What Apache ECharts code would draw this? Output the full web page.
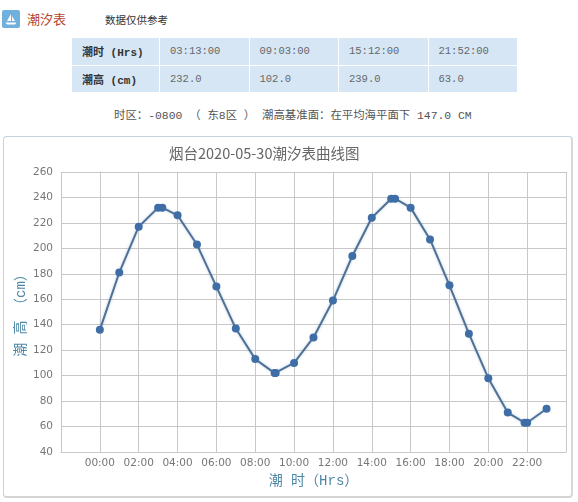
<!DOCTYPE html>
<html><head><meta charset="utf-8">
<script src="https://cdn.jsdelivr.net/npm/echarts@6/dist/echarts.min.js"></script>
<style>
html,body{margin:0;padding:0;background:#fff;width:578px;height:502px;overflow:hidden;font-family:"Noto Sans CJK SC",sans-serif}
.a{position:absolute;white-space:nowrap}
table{position:absolute;left:71px;top:37px;width:447px;height:56px;border-collapse:separate;border-spacing:1px;table-layout:fixed;font-family:"Liberation Mono","Noto Sans CJK SC",monospace;font-size:10.500px;color:#666}
td{background:#d6e6f5;padding:0 0 0 10px;height:26px}
td.h{font-weight:bold;color:#333;width:77px;font-size:11px}
#card{position:absolute;left:3px;top:136px;width:567px;height:359px;border:1px solid #c6d3dc;border-bottom-color:#d4d4d4;border-right-color:#d8d8d8;border-bottom-width:2px;border-right-width:2px;border-radius:4px}
#chart{position:absolute;left:0;top:0;width:578px;height:502px}
</style></head><body>
<svg class="a" style="left:2px;top:10px" width="18" height="18"><rect width="18" height="18" rx="2" fill="#6fb0dc"/><path d="M9 4v7H5z M10 6l3 5h-3z M3.500 12.500h11l-1.500 2h-8z" fill="#fff"/></svg>
<div class="a" style="left:27px;top:10px;font-size:13px;line-height:18px;color:#b8432f">潮汐表</div>
<div class="a" style="left:105px;top:12px;font-size:10.500px;line-height:16px;color:#333">数据仅供参考</div>
<table id="tbl"></table>
<div class="a" id="note" style="left:114px;top:107px;font-size:11.400px;line-height:18px;color:#555;font-family:'Liberation Mono','Noto Sans CJK SC',monospace"></div>
<div id="card"></div>
<div id="chart"></div>
<script>
const tideTimes=["03:13:00","09:03:00","15:12:00","21:52:00"];
const tideHeights=["232.0","102.0","239.0","63.0"];
const noteText="时区：-0800 （ 东8区 ） 潮高基准面：在平均海平面下 147.0 CM";
const titleText="烟台2020-05-30潮汐表曲线图";
const times=["00:00","01:00","02:00","03:00","03:13","04:00","05:00","06:00","07:00","08:00","09:00","09:03","10:00","11:00","12:00","13:00","14:00","15:00","15:12","16:00","17:00","18:00","19:00","20:00","21:00","21:52","22:00","23:00"];
const heights=[136,181,217,232,232,226,203,170,137,113,102,102,110,130,159,194,224,239,239,232,207,171,133,98,71,63,63,74];

document.getElementById('note').textContent=noteText;
document.getElementById('tbl').innerHTML=
 '<tr><td class="h">潮时 (Hrs)</td>'+tideTimes.map(t=>'<td>'+t+'</td>').join('')+'</tr>'+
 '<tr><td class="h">潮高 (cm)</td>'+tideHeights.map(t=>'<td>'+t+'</td>').join('')+'</tr>';

const toHours=s=>{const p=s.split(':');return +p[0]+(+p[1])/60;};
const chart=echarts.init(document.getElementById('chart'),null,{renderer:'canvas'});
const lineStyle={color:'#c8c8c8',width:1};
const axisText={color:'#777',fontSize:10.500,fontFamily:'"DejaVu Sans",sans-serif'};
const nameText={color:'#4d87a6',fontSize:14,fontFamily:'"Liberation Mono","Noto Sans CJK SC",monospace'};
chart.setOption({
 animation:false,
 backgroundColor:'transparent',
 title:{text:titleText,left:169,top:146,padding:0,textStyle:{color:'#666',fontSize:14.500,fontWeight:'normal',fontFamily:'"Noto Sans CJK SC","DejaVu Sans",sans-serif'}},
 grid:{left:61,right:12,top:172,bottom:50},
 xAxis:{type:'value',min:-2,max:24,interval:2,
  name:'潮 时（Hrs）',nameLocation:'middle',nameGap:21,nameTextStyle:nameText,
  axisLine:{lineStyle},axisTick:{show:false},splitLine:{show:true,lineStyle},
  axisLabel:Object.assign({},axisText,{margin:6,formatter:v=>(v<0||v>=24)?'':String(v).padStart(2,'0')+':00'})},
 yAxis:{type:'value',min:40,max:260,interval:20,
  name:'潮 高 （cm）',nameLocation:'middle',nameGap:33,nameRotate:90,nameMoveOverlap:false,nameTextStyle:nameText,
  axisLine:{show:true,lineStyle},axisTick:{show:false},splitLine:{show:true,lineStyle},
  axisLabel:Object.assign({},axisText,{margin:8})},
 series:[{type:'line',data:times.map((t,i)=>[toHours(t),heights[i]]),
  symbol:'circle',symbolSize:8,showSymbol:true,
  lineStyle:{color:'#4f7197',width:2,shadowColor:'rgba(69,114,167,.35)',shadowBlur:3},
  itemStyle:{color:'#3f6ea6',borderWidth:0}}]
});
</script>
</body></html>
